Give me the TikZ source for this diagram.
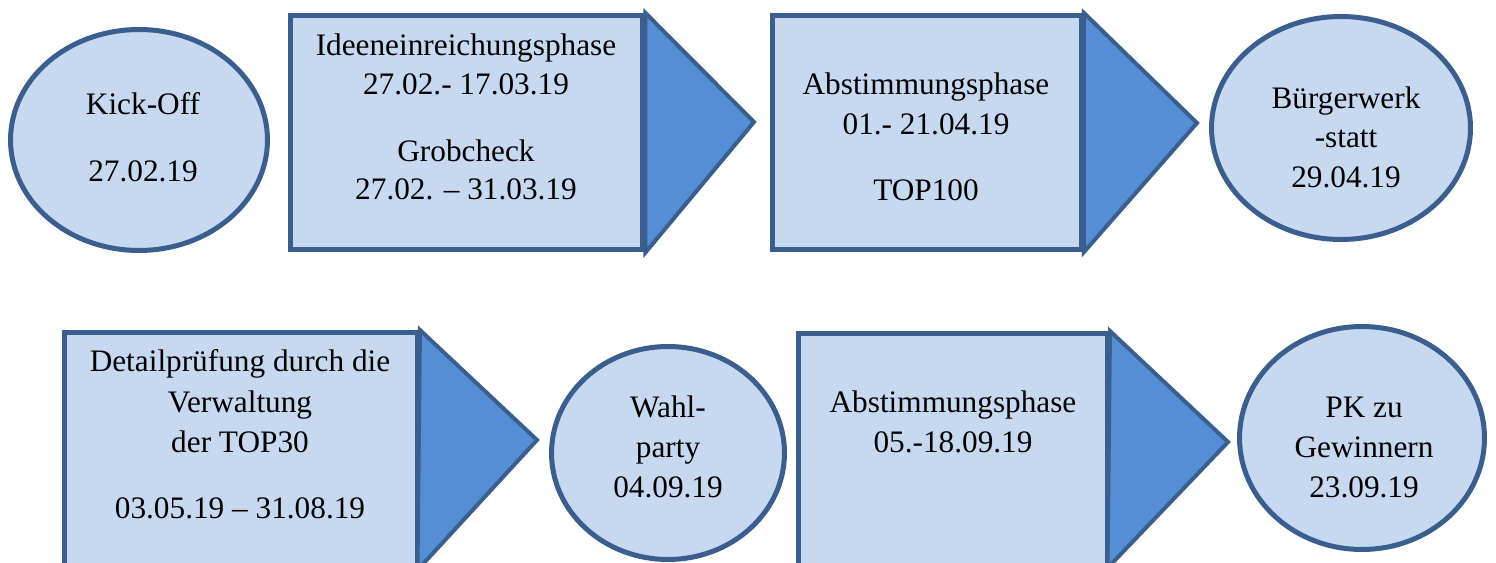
\documentclass[tikz,border=0pt]{standalone}
\usepackage{fontspec}
\setmainfont{Liberation Serif}
\usetikzlibrary{shapes.geometric}
\definecolor{lightblue}{HTML}{C6D9F1}
\definecolor{darkblue}{HTML}{3A5F8E}
\definecolor{midblue}{HTML}{558ED5}

\begin{document}
\begin{tikzpicture}[x=0.02cm,y=-0.02cm,
  phase/.style={draw=darkblue,fill=lightblue,line width=0.1cm,inner sep=0pt},
  arr/.style={draw=darkblue,fill=midblue,line width=0.08cm,line join=miter},
  lbl/.style={anchor=base,inner sep=0pt,font=\fontsize{17.8}{22}\selectfont}]

      \useasboundingbox (0,0) rectangle (1496,563);
      \clip (0,0) rectangle (1496,563);

      \node[phase,ellipse,minimum width=5.14cm,minimum height=4.42cm] (kick) at (139,140) {};
      \node[phase,rectangle,minimum width=7.05cm,minimum height=4.69cm] (idee) at (466.75,132.75) {};
      \node[phase,rectangle,minimum width=6.18cm,minimum height=4.68cm] (abst1) at (927,132.5) {};
      \node[phase,ellipse,minimum width=5.18cm,minimum height=4.46cm] (werk) at (1341,128) {};

      \node[phase,rectangle,minimum width=7.06cm,minimum height=5.34cm] (detail) at (241,466) {};
      \node[phase,ellipse,minimum width=4.66cm,minimum height=4.26cm] (wahl) at (668,453) {};
      \node[phase,rectangle,minimum width=6.18cm,minimum height=5.33cm] (abst2) at (953,466.75) {};
      \node[phase,ellipse,minimum width=4.9cm,minimum height=4.46cm] (pk) at (1362,438) {};

      \coordinate (tip1) at (754,122);
      \coordinate (tip2) at (1197,123);
      \coordinate (tip3) at (537,440);
      \coordinate (bot3) at (417.5,570);
      \coordinate (tip4) at (1228,442);
      \coordinate (bot4) at (1107.5,568);

      \draw[arr] (idee.north east) -- (tip1) -- (idee.south east) -- cycle;
      \draw[arr] (abst1.north east) -- (tip2) -- (abst1.south east) -- cycle;
      \draw[arr] (detail.north east) -- (tip3) -- (bot3) -- cycle;
      \draw[arr] (abst2.north east) -- (tip4) -- (bot4) -- cycle;

      \node[lbl] (kick1) at (143,115) {Kick-Off};
      \node[lbl] (kick2) at (143,182) {27.02.19};

      \node[lbl] (idee1) at (466,56) {Ideeneinreichungsphase};
      \node[lbl] (idee2) at (466,95) {27.02.- 17.03.19};
      \node[lbl] (idee3) at (466,162) {Grobcheck};
      \node[lbl] (idee4) at (466,200) {27.02. – 31.03.19};

      \node[lbl] (abst11) at (926,95) {Abstimmungsphase};
      \node[lbl] (abst12) at (926,135) {01.- 21.04.19};
      \node[lbl] (abst13) at (926,201) {TOP100};

      \node[lbl] (werk1) at (1346,109) {Bürgerwerk};
      \node[lbl] (werk2) at (1346,148) {-statt};
      \node[lbl] (werk3) at (1346,188) {29.04.19};

      \node[lbl] (detail1) at (240,372) {Detailprüfung durch die};
      \node[lbl] (detail2) at (240,412) {Verwaltung};
      \node[lbl] (detail3) at (240,452) {der TOP30};
      \node[lbl] (detail4) at (240,518) {03.05.19 – 31.08.19};

      \node[lbl] (wahl1) at (668,418) {Wahl-};
      \node[lbl] (wahl2) at (668,457) {party};
      \node[lbl] (wahl3) at (668,497) {04.09.19};

      \node[lbl] (abst21) at (953,413) {Abstimmungsphase};
      \node[lbl] (abst22) at (953,452) {05.-18.09.19};

      \node[lbl] (pk1) at (1364,418) {PK zu};
      \node[lbl] (pk2) at (1364,457) {Gewinnern};
      \node[lbl] (pk3) at (1364,497) {23.09.19};

    \end{tikzpicture}
\end{document}
